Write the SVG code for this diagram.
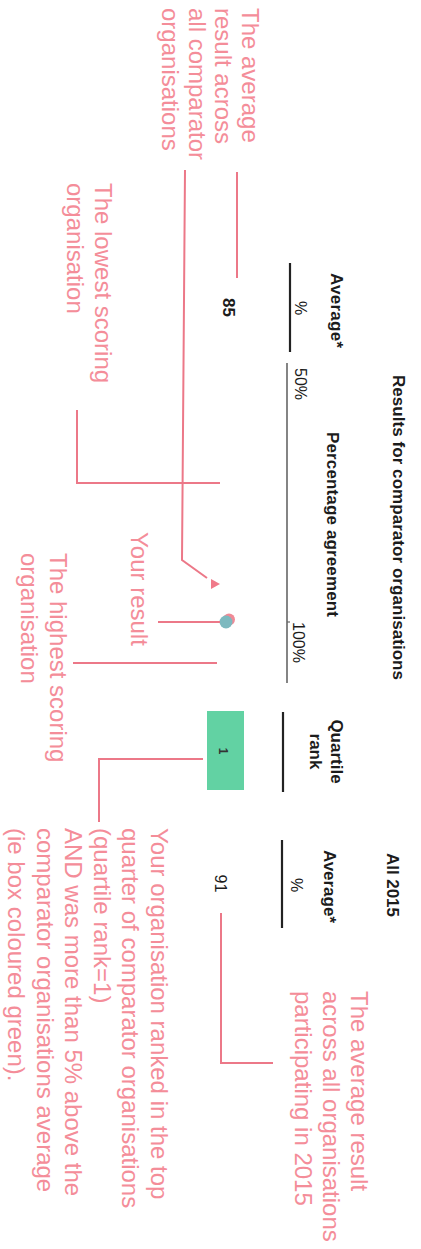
<svg xmlns="http://www.w3.org/2000/svg" width="421" height="1249" viewBox="0 0 421 1249">
<style>
.h{font-family:"Liberation Sans",Arial,sans-serif;font-weight:bold;font-size:17px;fill:#1c1c1c}
.n{font-family:"Liberation Sans",Arial,sans-serif;font-size:16px;fill:#1c1c1c}
.p{font-family:"Liberation Sans",Arial,sans-serif;font-size:24px;fill:#f48d99}
.c{fill:none;stroke:#ec7888;stroke-width:2}
.rule{stroke:#222;stroke-width:2.2}
</style>
<rect width="421" height="1249" fill="#fff"/>
<g transform="matrix(0 1 -1 0 421 0)">
  <g id="header">
    <text class="h" x="375" y="28" textLength="305">Results for comparator organisations</text>
    <text class="h" x="853" y="34" textLength="64">All 2015</text>
  </g>
  <g id="col-average">
    <text class="h" x="273" y="90" textLength="75">Average*</text>
    <text class="n" x="308" y="126" text-anchor="middle">%</text>
    <line class="rule" x1="263" y1="131" x2="352" y2="131"/>
  </g>
  <g id="col-percentage">
    <text class="h" x="432" y="94" textLength="185">Percentage agreement</text>
    <text class="n" x="368" y="126">50%</text>
    <text class="n" x="622" y="128">100%</text>
    <line x1="363" y1="134" x2="683" y2="134" stroke="#666" stroke-width="1.6"/>
    <line x1="622" y1="131" x2="622" y2="134" stroke="#666" stroke-width="1.2"/>
  </g>
  <g id="col-quartile">
    <text class="h" x="751.5" y="90" text-anchor="middle">Quartile</text>
    <text class="h" x="751.5" y="111" text-anchor="middle">rank</text>
    <line class="rule" x1="712" y1="138" x2="792" y2="138"/>
  </g>
  <g id="col-all2015">
    <text class="h" x="850" y="97" textLength="73">Average*</text>
    <text class="n" x="885" y="130" text-anchor="middle">%</text>
    <line class="rule" x1="840" y1="139" x2="928" y2="139"/>
  </g>
  <g id="value-85">
    <text class="h" x="307.5" y="198" text-anchor="middle">85</text>
  </g>
  <g id="your-result-dot">
    <circle cx="619.5" cy="192" r="6" fill="#f08a96"/>
    <circle cx="622" cy="195" r="6.5" fill="#7db9bf"/>
  </g>
  <g id="quartile-box">
    <rect x="711" y="177" width="79" height="37" fill="#62d2a3"/>
    <text x="751" y="202" font-family="Liberation Sans, Arial, sans-serif" font-size="12" font-weight="bold" fill="#333" text-anchor="middle">1</text>
  </g>
  <g id="value-91">
    <text class="n" x="883.5" y="206" text-anchor="middle">91</text>
  </g>
  <g id="connectors">
    <line class="c" x1="172" y1="184" x2="278" y2="184"/>
    <polyline class="c" points="170,236 560,239 578,214"/>
    <polygon points="579,210 589,210 584,201" fill="#f07a8a"/>
    <polyline class="c" points="410,344 483,344 483,201"/>
    <line class="c" x1="622" y1="263" x2="622" y2="201"/>
    <line class="c" x1="663" y1="348" x2="663" y2="204"/>
    <polyline class="c" points="759,218 759,322 822,322"/>
    <polyline class="c" points="913,200 1063,200 1063,148"/>
  </g>
  <g id="note-comparator-average">
    <text class="p" x="8" y="179">The average</text>
    <text class="p" x="8" y="206">result across</text>
    <text class="p" x="8" y="232">all comparator</text>
    <text class="p" x="8" y="259">organisations</text>
  </g>
  <g id="note-lowest">
    <text class="p" x="183" y="326">The lowest scoring</text>
    <text class="p" x="183" y="354">organisation</text>
  </g>
  <g id="note-your-result">
    <text class="p" x="532" y="290">Your result</text>
  </g>
  <g id="note-highest">
    <text class="p" x="553" y="371">The highest scoring</text>
    <text class="p" x="553" y="400">organisation</text>
  </g>
  <g id="note-quartile">
    <text class="p" x="828" y="270">Your organisation ranked in the top</text>
    <text class="p" x="828" y="298.6">quarter of comparator organisations</text>
    <text class="p" x="828" y="327.2">(quartile rank=1)</text>
    <text class="p" x="828" y="355.8">AND was more than 5% above the</text>
    <text class="p" x="828" y="384.4">comparator organisations average</text>
    <text class="p" x="828" y="413">(ie box coloured green).</text>
  </g>
  <g id="note-all2015">
    <text class="p" x="991" y="70">The average result</text>
    <text class="p" x="991" y="98">across all organisations</text>
    <text class="p" x="991" y="126">participating in 2015</text>
  </g>
</g>
</svg>
